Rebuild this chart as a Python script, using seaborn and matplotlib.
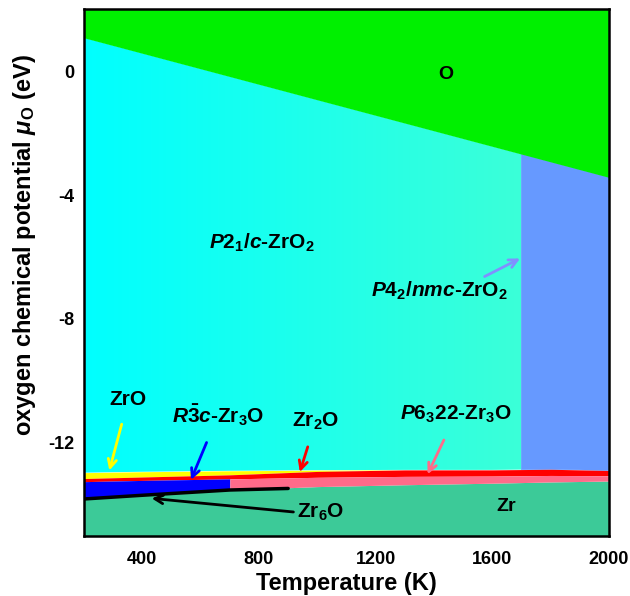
import numpy as np
import matplotlib
matplotlib.use("Agg")
import matplotlib.pyplot as plt
from matplotlib.colors import LinearSegmentedColormap
from matplotlib.patches import Polygon
import seaborn as sns

# ---- data ----
T_o = [200, 2000]                 # O / ZrO2 boundary
mu_o = [1.08, -3.43]
T_tet = 1700                      # P21/c -> P42/nmc transition temperature

T_low = [200, 400, 700, 1000, 1300, 1600, 1800, 2000]
mu_zro2_low = [-12.97, -12.94, -12.91, -12.89, -12.88, -12.88, -12.86, -12.90]
mu_zro_low = [-13.16, -13.11, -13.04, -12.93, -12.88, -12.88, -12.86, -12.90]
mu_zr2o_low = [-13.26, -13.22, -13.17, -13.12, -13.09, -13.08, -13.06, -13.07]
mu_zr3o_low = [-13.80, -13.69, -13.53, -13.42, -13.36, -13.31, -13.27, -13.24]
T_r3c_max = 700

T_zr6o = [200, 400, 700, 900]
mu_zr6o = [-13.82, -13.70, -13.53, -13.48]

x_ticks = [400, 800, 1200, 1600, 2000]
x_minor = [600, 1000, 1400, 1800]
y_ticks = [0, -4, -8, -12]
y_minor = [-2, -6, -10, -14]

# ---- style ----
sns.set_theme(style="ticks")
plt.rcParams['font.family'] = ['Liberation Sans', 'DejaVu Sans']
plt.rcParams['font.weight'] = 'bold'
plt.rcParams['text.color'] = 'black'
plt.rcParams['axes.labelcolor'] = 'black'
plt.rcParams['xtick.color'] = 'black'
plt.rcParams['ytick.color'] = 'black'
plt.rcParams['mathtext.fontset'] = 'custom'
plt.rcParams['mathtext.rm'] = 'Liberation Sans:bold'
plt.rcParams['mathtext.bf'] = 'Liberation Sans:bold'
plt.rcParams['mathtext.it'] = 'Liberation Sans:italic:bold'
plt.rcParams['mathtext.sf'] = 'Liberation Sans:bold'

fig = plt.figure(figsize=(6.3, 5.96), dpi=100)
ax = fig.add_axes([0.1333, 0.1015, 0.8334, 0.8829])
xmin, xmax, ymin, ymax = 200, 2000, -15, 2

T_low_a = np.array(T_low)

# Zr region (bottom)
ax.fill_between(T_low, ymin, mu_zr3o_low, color='#3cca98', lw=0, zorder=1)

# P21/c ZrO2 region with gradient
mu_o_tet = np.interp(T_tet, T_o, mu_o)
low_tet = np.interp(T_tet, T_low, mu_zro2_low)
verts = [(T_o[0], mu_o[0]), (T_tet, mu_o_tet), (T_tet, low_tet)]
for t, m in zip(T_low[::-1], mu_zro2_low[::-1]):
    if t <= T_tet:
        verts.append((t, m))
poly = Polygon(verts, closed=True, facecolor='none', edgecolor='none')
ax.add_patch(poly)
cmap = LinearSegmentedColormap.from_list('zro2', ['#00ffff', '#3bffd8'])
grad = np.linspace(0, 1, 256).reshape(1, -1)
im = ax.imshow(grad, extent=[T_o[0], T_tet, ymin, ymax], aspect='auto',
               cmap=cmap, zorder=1, interpolation='bilinear')
im.set_clip_path(poly)

# P42/nmc region
verts2 = [(T_tet, mu_o_tet), (T_o[1], mu_o[1])]
for t, m in zip(T_low[::-1], mu_zro2_low[::-1]):
    if t >= T_tet:
        verts2.append((t, m))
verts2.append((T_tet, low_tet))
ax.add_patch(Polygon(verts2, closed=True, facecolor='#6699ff', edgecolor='#6699ff',
                     lw=0.5, zorder=1))

# thin bands
ax.fill_between(T_low, mu_zro_low, mu_zro2_low, color='#ffff00', lw=0, zorder=2)
ax.fill_between(T_low, mu_zr2o_low, mu_zro_low, color='#ff0000', lw=0, zorder=2)
ax.fill_between(T_low, mu_zr3o_low, mu_zr2o_low, where=T_low_a <= T_r3c_max,
                color='#0000ff', lw=0, zorder=2)
ax.fill_between(T_low, mu_zr3o_low, mu_zr2o_low, where=T_low_a >= T_r3c_max,
                color='#ff6b8a', lw=0, zorder=2)

# O region (top)
ax.fill_between(T_o, mu_o, ymax, color='#00f000', lw=0, zorder=2)

# Zr6O sliver
sns.lineplot(x=T_zr6o, y=mu_zr6o, color='black', lw=2.5, ax=ax, zorder=3)

ax.set_xlim(xmin, xmax)
ax.set_ylim(ymin, ymax)

# labels
fs = 15
ax.text(1440, -0.1, 'O', fontsize=fs - 1, fontweight='bold', ha='center', va='center', zorder=5)
ax.text(810, -5.55, r'$\mathit{P}$2$_\mathregular{1}$/$\mathit{c}$-ZrO$_\mathregular{2}$',
        fontsize=fs, ha='center', va='center', zorder=5)
ax.annotate(r'$\mathit{P}$4$_\mathregular{2}$/$\mathit{nmc}$-ZrO$_\mathregular{2}$',
            xy=(1695, -6.05), xytext=(1420, -7.1), fontsize=fs, ha='center', va='center',
            arrowprops=dict(arrowstyle='->', color='#8090ff', lw=2, shrinkA=0, shrinkB=0,
                            relpos=(0.78, 1.0)), zorder=5)
ax.annotate('ZrO', xy=(287, -12.9), xytext=(352, -10.6), fontsize=fs, ha='center', va='center',
            arrowprops=dict(arrowstyle='->', color='#ffff00', lw=2, shrinkA=9, shrinkB=0),
            zorder=5)
ax.annotate(r'$\mathit{R}\bar{3}\mathit{c}$-Zr$_\mathregular{3}$O', xy=(567, -13.2),
            xytext=(660, -11.1), fontsize=fs, ha='center', va='center',
            arrowprops=dict(arrowstyle='->', color='#0000ff', lw=2, shrinkA=9, shrinkB=0),
            zorder=5)
ax.annotate(r'Zr$_\mathregular{2}$O', xy=(940, -12.95), xytext=(995, -11.3), fontsize=fs,
            ha='center', va='center',
            arrowprops=dict(arrowstyle='->', color='#ff0000', lw=2, shrinkA=9, shrinkB=0),
            zorder=5)
ax.annotate(r'$\mathit{P}$6$_\mathregular{3}$22-Zr$_\mathregular{3}$O', xy=(1378, -13.02),
            xytext=(1475, -11.1), fontsize=fs, ha='center', va='center',
            arrowprops=dict(arrowstyle='->', color='#ff6b8a', lw=2, shrinkA=9, shrinkB=0),
            zorder=5)
ax.annotate(r'Zr$_\mathregular{6}$O', xy=(432, -13.8), xytext=(1010, -14.25), fontsize=fs,
            ha='center', va='center',
            arrowprops=dict(arrowstyle='->', color='black', lw=2, shrinkA=0, shrinkB=0,
                            relpos=(0.0, 0.5)), zorder=5)
ax.text(1647, -14.07, 'Zr', fontsize=fs - 1, fontweight='bold', ha='center', va='center',
        zorder=5)

# axes
ax.set_xticks(x_ticks)
ax.set_xticks(x_minor, minor=True)
ax.set_yticks(y_ticks)
ax.set_yticks(y_minor, minor=True)
ax.set_xticklabels([str(v) for v in x_ticks], fontsize=13, fontweight='bold')
ax.set_yticklabels([str(v) for v in y_ticks], fontsize=13, fontweight='bold')
ax.tick_params(axis='x', which='both', direction='in', length=7, width=1.5,
               top=False, right=False, pad=11)
ax.tick_params(axis='y', which='both', direction='in', length=7, width=1.5,
               top=False, right=False, pad=7)
for s in ax.spines.values():
    s.set_linewidth(1.8)
    s.set_color('black')
    s.set_zorder(10)
ax.set_xlabel('Temperature (K)', fontsize=17, fontweight='bold', labelpad=3)
ax.set_ylabel(r'oxygen chemical potential $\mathit{\mu}_\mathregular{O}$ (eV)', fontsize=17,
              fontweight='bold')
ax.yaxis.set_label_coords(-0.088, 0.552)

fig.savefig('out.png', dpi=100)
